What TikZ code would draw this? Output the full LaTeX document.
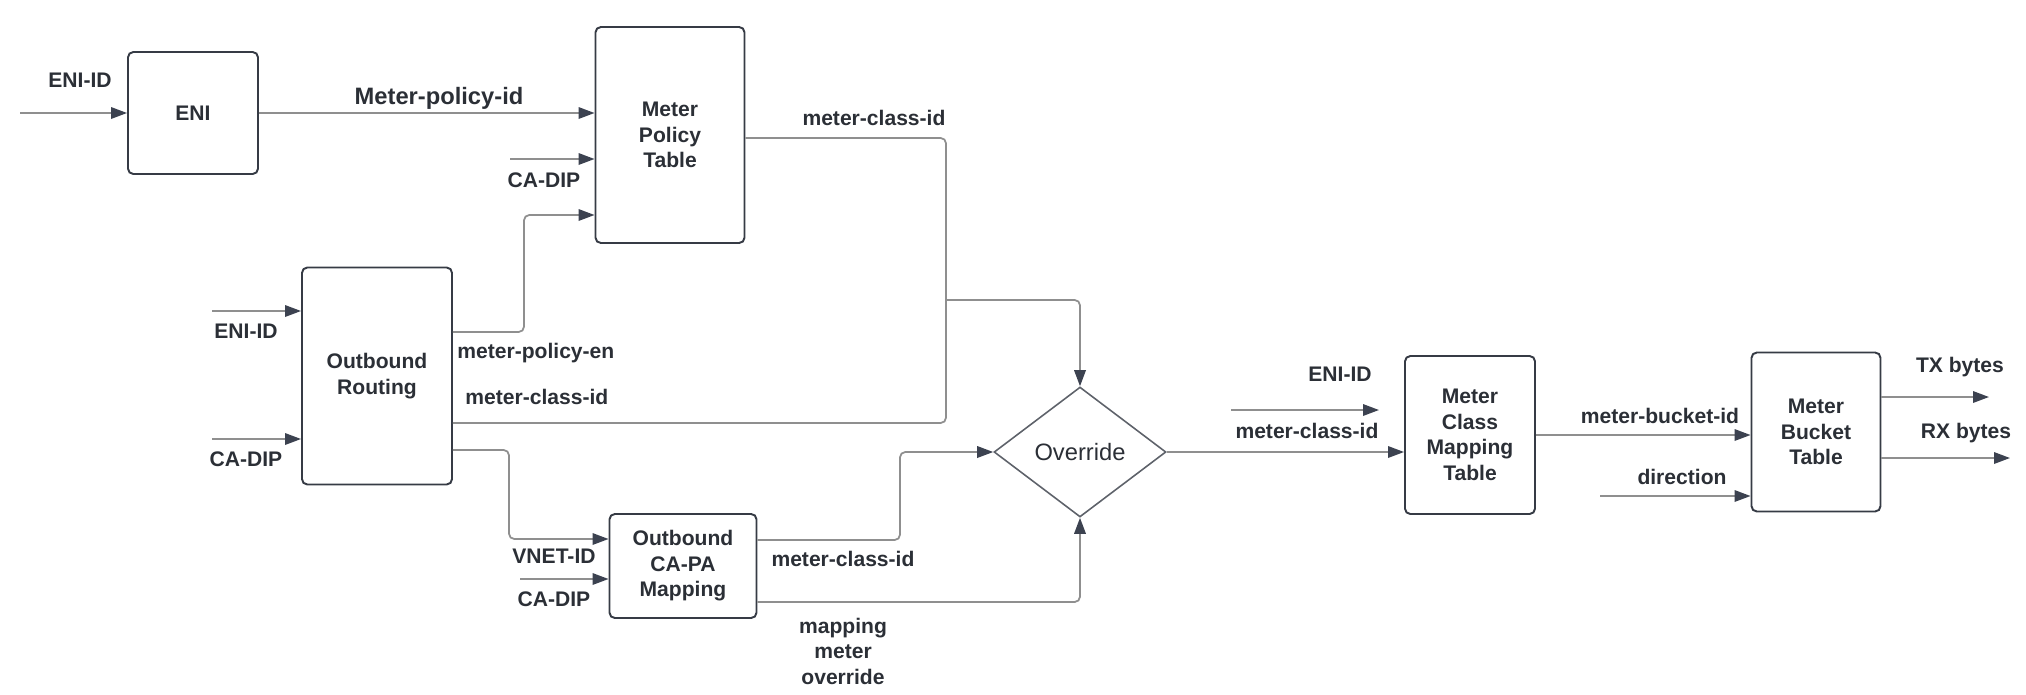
\documentclass[tikz,border=0pt]{standalone}
\usepackage{fontspec}
\setmainfont{Liberation Sans}
\usetikzlibrary{arrows.meta,shapes.geometric}

\definecolor{boxline}{HTML}{363B45}
\definecolor{wirecol}{HTML}{8F8F8F}
\definecolor{tipcol}{HTML}{3C4250}
\definecolor{ink}{HTML}{2B2F36}

\newcommand{\tagfont}{\fontsize{12}{14.5}\selectfont\bfseries}

\tikzset{
  tblbox/.style={draw=boxline, line width=1.1pt, rounded corners=3pt, align=center, font=\tagfont, text=ink, inner sep=0pt},
  wire/.style={draw=wirecol, line width=1pt, rounded corners=3pt},
  flow/.style={wire, -{Triangle[length=0.32cm,width=0.23cm,color=tipcol]}},
  tag/.style={font=\tagfont, text=ink, inner sep=0pt, align=center},
}

\begin{document}
\begin{tikzpicture}[x=0.02cm, y=-0.02cm]
\useasboundingbox (0,0) rectangle (2026,694);

% tables
\node [tblbox, minimum width=2.6cm, minimum height=2.44cm] (eni) at (193,113) {ENI};
\node [tblbox, minimum width=2.98cm, minimum height=4.32cm] (mpt) at (670,135) {Meter\\Policy\\Table};
\node [tblbox, minimum width=3.0cm, minimum height=4.34cm] (orout) at (377,376) {Outbound\\Routing};
\node [tblbox, minimum width=2.94cm, minimum height=2.08cm] (capa) at (683,566) {Outbound\\CA-PA\\Mapping};
\node [diamond, draw=boxline!80, line width=0.9pt, minimum width=3.44cm, minimum height=2.6cm, inner sep=0pt, text=ink, font=\fontsize{13.5}{16}\selectfont] (ovr) at (1080,452) {Override};
\node [tblbox, minimum width=2.6cm, minimum height=3.16cm] (mcmt) at (1470,435) {Meter\\Class\\Mapping\\Table};
\node [tblbox, minimum width=2.58cm, minimum height=3.18cm] (mbt) at (1816,432) {Meter\\Bucket\\Table};

% free ends
\coordinate (eni-in) at (20,113);
\coordinate (mpt-dip) at (510,159);
\coordinate (or-eni) at (212,311);
\coordinate (or-dip) at (212,439);
\coordinate (capa-dip) at (520,579);
\coordinate (mcmt-eni) at (1231,410);
\coordinate (mcmt-eni-end) at (1379,410);
\coordinate (dir-in) at (1600,496);
\coordinate (tx-out) at (1989,397);
\coordinate (rx-out) at (2010,458);
\coordinate (join) at (946,300);

% connectors
\draw [flow] (eni-in) -- (eni.west);
\draw [flow] (eni.east) -- (mpt.west |- eni.east);
\draw [flow] (mpt-dip) -- (mpt.west |- mpt-dip);
\draw [flow] (or-eni) -- (orout.west |- or-eni);
\draw [flow] (or-dip) -- (orout.west |- or-dip);
\draw [flow] (orout.east |- 0,332) -| (524,215) -- (mpt.west |- 0,215);
\draw [wire] (mpt.east |- 0,138) -| (join);
\draw [wire] (orout.east |- 0,423) -| (join);
\draw [flow] (join) -| (ovr.north);
\draw [flow] (orout.east |- 0,450) -| (509,539) -- (capa.west |- 0,539);
\draw [flow] (capa-dip) -- (capa.west |- capa-dip);
\draw [flow] (capa.east |- 0,540) -| (900,452) -- (ovr.west);
\draw [flow] (capa.east |- 0,602) -| (ovr.south);
\draw [flow] (ovr.east) -- (mcmt.west |- ovr.east);
\draw [flow] (mcmt-eni) -- (mcmt-eni-end);
\draw [flow] (mcmt.east) -- (mbt.west |- mcmt.east);
\draw [flow] (dir-in) -- (mbt.west |- dir-in);
\draw [flow] (mbt.east |- tx-out) -- (tx-out);
\draw [flow] (mbt.east |- rx-out) -- (rx-out);

% labels
\node [tag] (eni-id-a) at (80,80) {ENI-ID};
\node [tag, font=\fontsize{13.5}{16}\selectfont\bfseries] (policy-id) at (439,98) {Meter-policy-id};
\node [tag] (dip-a) at (544,180) {CA-DIP};
\node [tag] (eni-id-b) at (246,331) {ENI-ID};
\node [tag] (dip-b) at (246,459) {CA-DIP};
\node [tag, anchor=west] (policy-en) at (457,353) {meter-policy-en};
\node [tag, anchor=west] (class-id-a) at (465,397) {meter-class-id};
\node [tag] (class-id-b) at (874,118) {meter-class-id};
\node [tag] (vnet-id) at (554,556) {VNET-ID};
\node [tag] (dip-c) at (554,599) {CA-DIP};
\node [tag] (class-id-c) at (843,559) {meter-class-id};
\node [tag] (override-tag) at (843,651) {mapping\\meter\\override};
\node [tag] (eni-id-c) at (1340,374) {ENI-ID};
\node [tag] (class-id-d) at (1307,431) {meter-class-id};
\node [tag] (bucket-id) at (1660,416) {meter-bucket-id};
\node [tag] (dir) at (1682,477) {direction};
\node [tag] (tx) at (1960,367) {TX bytes};
\node [tag] (rx) at (1966,433) {RX bytes};

\end{tikzpicture}
\end{document}
